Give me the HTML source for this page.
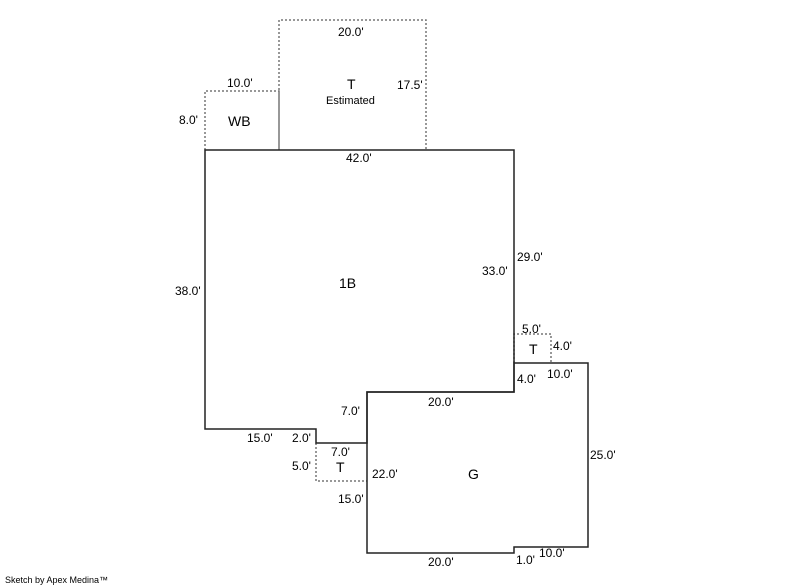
<!DOCTYPE html>
<html><head><style>
html,body{margin:0;padding:0;background:#fff;}
svg{display:block;}
text{font-family:"Liberation Sans",Arial,sans-serif;font-size:12px;fill:#000;}
text.b{font-size:14px;}
text.s{font-size:11px;}
text.f{font-size:9px;}
</style></head><body>
<svg width="800" height="587" viewBox="0 0 800 587" xmlns="http://www.w3.org/2000/svg">
<g fill="none" stroke="#777" stroke-width="1.5" stroke-dasharray="2,2">
<polyline points="205,150 205,91 279,91 279,150"/>
<polyline points="279,150 279,20 426,20 426,150"/>
<polyline points="514,363 514,334 551,334 551,363"/>
<polyline points="316,443 316,481 367,481"/>
</g>
<g fill="none" stroke="#222" stroke-width="1.5">
<polygon points="205,150 514,150 514,392 367,392 367,443 316,443 316,429 205,429"/>
<polygon points="367,392 514,392 514,363 588,363 588,547 514,547 514,553 367,553"/>
</g>
<text x="338" y="36">20.0'</text>
<text class="b" x="347" y="89">T</text>
<text class="s" x="326" y="104">Estimated</text>
<text x="397" y="89">17.5'</text>
<text x="227" y="87">10.0'</text>
<text x="179" y="124">8.0'</text>
<text class="b" x="228" y="126">WB</text>
<text x="346" y="162">42.0'</text>
<text x="517" y="261">29.0'</text>
<text x="482" y="275">33.0'</text>
<text x="175" y="295">38.0'</text>
<text class="b" x="339" y="288">1B</text>
<text x="522" y="333">5.0'</text>
<text class="b" x="529" y="354">T</text>
<text x="553" y="350">4.0'</text>
<text x="517" y="383">4.0'</text>
<text x="547" y="378">10.0'</text>
<text x="341" y="415">7.0'</text>
<text x="428" y="406">20.0'</text>
<text x="247" y="442">15.0'</text>
<text x="292" y="442">2.0'</text>
<text x="331" y="456">7.0'</text>
<text x="292" y="470">5.0'</text>
<text class="b" x="336" y="472">T</text>
<text x="372" y="478">22.0'</text>
<text class="b" x="468" y="479">G</text>
<text x="590" y="459">25.0'</text>
<text x="338" y="503">15.0'</text>
<text x="428" y="566">20.0'</text>
<text x="516" y="564">1.0'</text>
<text x="539" y="557">10.0'</text>
<text class="f" x="5" y="583">Sketch by Apex Medina™</text>
</svg>
</body></html>
